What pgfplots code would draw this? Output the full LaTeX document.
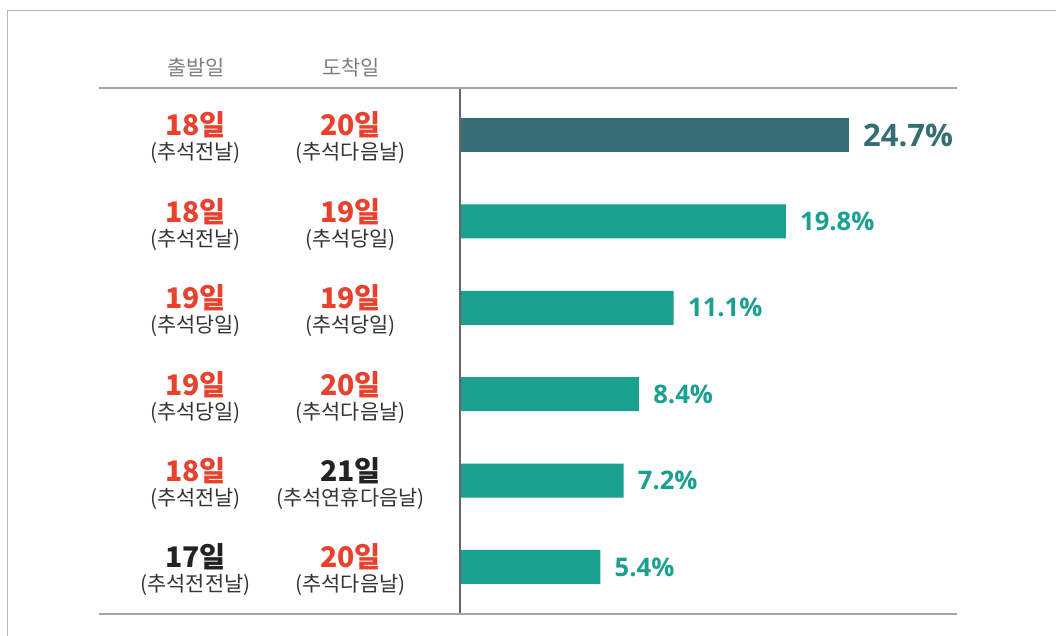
\documentclass[border=0pt]{standalone}
\usepackage{fontspec}
\setmainfont{Noto Sans CJK KR}
\newfontfamily\pctfont{Open Sans}
\usepackage{pgfplots}
\pgfplotsset{compat=1.18}

\definecolor{barDark}{HTML}{356F75}
\definecolor{barTeal}{HTML}{19A08F}
\definecolor{dayRed}{HTML}{E8412D}
\definecolor{dayBlack}{HTML}{222222}
\definecolor{subText}{HTML}{333333}
\definecolor{headGray}{HTML}{7F7F7F}
\definecolor{ruleGray}{HTML}{A6A6A6}
\definecolor{frameGray}{HTML}{B8B8B8}

% one column cell: day (coloured, bold) over its description
\newcommand{\cell}[3]{\vbox{\baselineskip=12pt\lineskiplimit=-\maxdimen
  \hbox to 77.5pt{\hss\fontsize{14.2}{14}\selectfont\bfseries\color{#1}#2\hss}
  \hbox to 77.5pt{\hss\fontsize{10.4}{12}\selectfont\color{subText}#3\hss}}}
\newcommand{\pair}[6]{\hbox{\cell{#1}{#2}{#3}\cell{#4}{#5}{#6}}}

\begin{document}
\begin{tikzpicture}
\useasboundingbox (0,0) rectangle (528pt,318pt);
% frame
\draw[frameGray, line width=0.5pt] (3.5pt,0) -- (3.5pt,312.5pt) -- (528pt,312.5pt);

\begin{axis}[
  at={(230pt,11pt)}, anchor=south west,
  width=248.5pt, height=263pt, scale only axis,
  xbar, bar width=17pt, bar shift=0pt,
  % bars are drawn from a baseline 5.5 units left of zero
  x filter/.expression={x+5.5},
  xmin=0, xmax=38.6,
  ymin=-0.544, ymax=5.544, y dir=reverse,
  xtick=\empty,
  ytick={0,1,2,3,4,5},
  yticklabels={
    {\pair{dayRed}{18일}{(추석전날)}{dayRed}{20일}{(추석다음날)}},
    {\pair{dayRed}{18일}{(추석전날)}{dayRed}{19일}{(추석당일)}},
    {\pair{dayRed}{19일}{(추석당일)}{dayRed}{19일}{(추석당일)}},
    {\pair{dayRed}{19일}{(추석당일)}{dayRed}{20일}{(추석다음날)}},
    {\pair{dayRed}{18일}{(추석전날)}{dayBlack}{21일}{(추석연휴다음날)}},
    {\pair{dayBlack}{17일}{(추석전전날)}{dayRed}{20일}{(추석다음날)}}
  },
  yticklabel style={anchor=east, inner sep=0pt, xshift=-11.5pt, yshift=-1.5pt},
  axis line style={draw=none},
  tick style={draw=none},
  point meta=rawx,
  nodes near coords={\pgfmathprintnumber[fixed,fixed zerofill,precision=1,assume math mode=true]{\pgfplotspointmeta}\%},
  nodes near coords style={anchor=west, inner sep=0pt, xshift=7pt},
  clip=false,
]
  \addplot[fill=barDark, draw=none,
    nodes near coords style={text=barDark, font={\pctfont\bfseries\fontsize{15.5}{18}\selectfont}}]
    coordinates {(24.7,0)};
  \addplot[fill=barTeal, draw=none,
    nodes near coords style={text=barTeal, font={\pctfont\bfseries\fontsize{12.8}{15}\selectfont}}]
    coordinates {(19.8,1) (11.1,2) (8.4,3) (7.2,4) (5.4,5)};
  \draw[gray!80!black, line width=0.6pt] (rel axis cs:0,0) -- (rel axis cs:0,1);
\end{axis}

% header and bottom rules across the whole table
\draw[ruleGray, line width=0.6pt] (49.5pt,274pt) -- (478.5pt,274pt);
\draw[ruleGray, line width=0.6pt] (49.5pt,11pt) -- (478.5pt,11pt);
% column headers
\node[headGray, font=\fontsize{10.4}{12}\selectfont] at (98pt,284pt) {출발일};
\node[headGray, font=\fontsize{10.4}{12}\selectfont] at (175.5pt,284pt) {도착일};
\end{tikzpicture}
\end{document}
